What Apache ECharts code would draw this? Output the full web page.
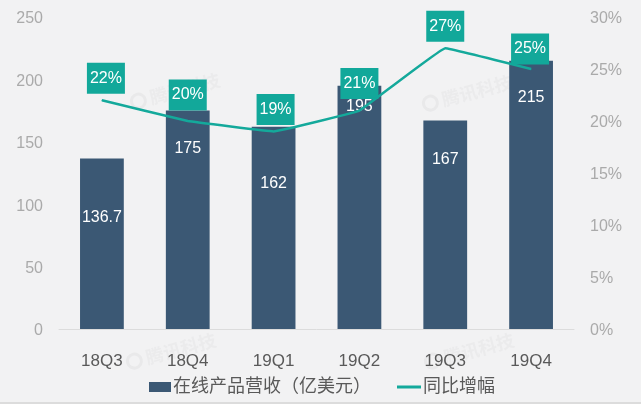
<!DOCTYPE html>
<html><head><meta charset="utf-8">
<style>html,body{margin:0;padding:0;background:#f2f2f3}#c{width:641px;height:404px}</style>
<script src="https://cdn.jsdelivr.net/npm/echarts@6/dist/echarts.min.js"></script>
</head><body><div id="c"></div>
<script>
const categories = ['18Q3','18Q4','19Q1','19Q2','19Q3','19Q4'];
const revenue = [136.7,175,162,195,167,215];
const growth = [22,20,19,21,27,25];
const leftTicks = {min:0,max:250,interval:50};
const rightTicks = {min:0,max:30,interval:5};
const barName = '在线产品营收（亿美元）';
const lineName = '同比增幅';
// per-point label placement, in pixels
const barLabelDrop = [60,39,58,22,40,38];
const lineLabelGap = [6,10,6,11,6,4];
const lineLabelShift = [4,0,2,0,0,-1];
const latin = 'Liberation Sans, Arial, sans-serif';
const cjk = '"Liberation Sans", "Noto Sans CJK SC", sans-serif';
function mark(x,y){
  return {type:'group',x:x,y:y,rotation:Math.PI/12,z:-1,silent:true,children:[
    {type:'circle',shape:{cx:-12,cy:0,r:7},style:{fill:'none',stroke:'#e9e9ea',lineWidth:3}},
    {type:'text',style:{x:0,y:0,text:'腾讯科技',fill:'#ebebec',font:'bold 18px "Noto Sans CJK SC"',textVerticalAlign:'middle'}}
  ]};
}
const chart = echarts.init(document.getElementById('c'),null,{renderer:'canvas'});
chart.setOption({
  backgroundColor:'#f2f2f3',
  animation:false,
  graphic:[mark(150,98),mark(442,100),mark(146,358),mark(444,358),
    {type:'rect',shape:{x:0,y:402,width:641,height:2},style:{fill:'#dcdcdc'},silent:true}],
  grid:{left:59,right:67,top:17,bottom:75,containLabel:false},
  legend:[
    {data:[barName],left:144,top:373,icon:'rect',itemWidth:22,itemHeight:10,itemGap:2,
     textStyle:{fontFamily:cjk,fontSize:18,color:'#595959',padding:[0,0,0,-3]}},
    {data:[lineName],left:392,top:373,icon:'rect',itemWidth:24,itemHeight:3,
     textStyle:{fontFamily:cjk,fontSize:18,color:'#595959',padding:[0,0,0,-3]}}
  ],
  xAxis:{type:'category',data:categories,
    axisLine:{lineStyle:{color:'#dcdcdc',width:1}},axisTick:{show:false},
    axisLabel:{fontFamily:latin,fontSize:17,color:'#595959',margin:24}},
  yAxis:[
    {type:'value',...leftTicks,splitLine:{show:false},axisLine:{show:false},axisTick:{show:false},
     axisLabel:{fontFamily:latin,fontSize:16,color:'#aaaaaa',margin:16,verticalAlign:'top',lineHeight:4}},
    {type:'value',...rightTicks,splitLine:{show:false},axisLine:{show:false},axisTick:{show:false},
     axisLabel:{fontFamily:latin,fontSize:16,color:'#aaaaaa',margin:16,verticalAlign:'top',lineHeight:4,formatter:'{value}%'}}
  ],
  series:[
    {type:'bar',name:barName,barWidth:'51%',itemStyle:{color:'#3b5874'},
     data:revenue.map((v,i)=>({value:v,label:{show:true,position:'insideTop',distance:barLabelDrop[i]-9,
        color:'#fff',fontFamily:latin,fontSize:16,formatter:String(v)}}))},
    {type:'line',name:lineName,yAxisIndex:1,smooth:0.05,showSymbol:true,symbol:'circle',symbolSize:1,z:5,
     lineStyle:{color:'#14a99b',width:2.5},itemStyle:{color:'#14a99b'},
     data:growth.map((v,i)=>({value:v,label:{show:true,position:'top',distance:lineLabelGap[i],offset:[lineLabelShift[i],0],
        backgroundColor:'#12a89a',color:'#fff',fontFamily:latin,fontSize:16,
        width:38,height:31,lineHeight:31,align:'center',padding:0,formatter:v+'%'}}))}
  ]
});
</script></body></html>
